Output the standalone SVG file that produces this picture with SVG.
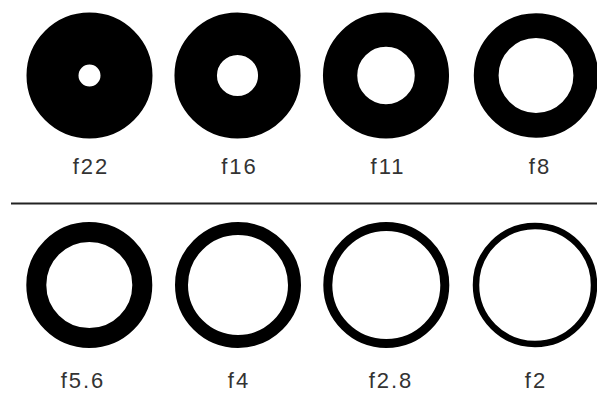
<svg xmlns="http://www.w3.org/2000/svg" width="597" height="395" viewBox="0 0 597 395">
<style>
.ring{fill:none;stroke:#000}
.lbl{font-family:"Liberation Sans",Arial,sans-serif;font-size:22px;fill:#333;text-anchor:middle;letter-spacing:2px}
</style>
<rect width="597" height="395" fill="#fff"/>
<g id="f22"><circle class="ring" cx="89.5" cy="75.5" r="37" stroke-width="52"/><text class="lbl" x="91" y="174">f22</text></g>
<g id="f16"><circle class="ring" cx="237.5" cy="75.5" r="41.8" stroke-width="42.5"/><text class="lbl" x="239.5" y="174">f16</text></g>
<g id="f11"><circle class="ring" cx="386" cy="75.5" r="45.9" stroke-width="34.3"/><text class="lbl" x="388" y="174">f11</text></g>
<g id="f8"><circle class="ring" cx="536" cy="75.5" r="49.8" stroke-width="24.8"/><text class="lbl" x="540" y="174">f8</text></g>
<g id="connectors"><line x1="11" y1="203.5" x2="597" y2="203.5" stroke="#222" stroke-width="2"/></g>
<g id="f5.6"><circle class="ring" cx="89.3" cy="285" r="53" stroke-width="20"/><text class="lbl" x="83" y="388">f5.6</text></g>
<g id="f4"><circle class="ring" cx="238" cy="285" r="56.5" stroke-width="13"/><text class="lbl" x="239" y="388">f4</text></g>
<g id="f2.8"><circle class="ring" cx="386.3" cy="285" r="58.5" stroke-width="9"/><text class="lbl" x="391" y="388">f2.8</text></g>
<g id="f2"><circle class="ring" cx="535" cy="285" r="59" stroke-width="6.5"/><text class="lbl" x="536" y="388">f2</text></g>
</svg>
